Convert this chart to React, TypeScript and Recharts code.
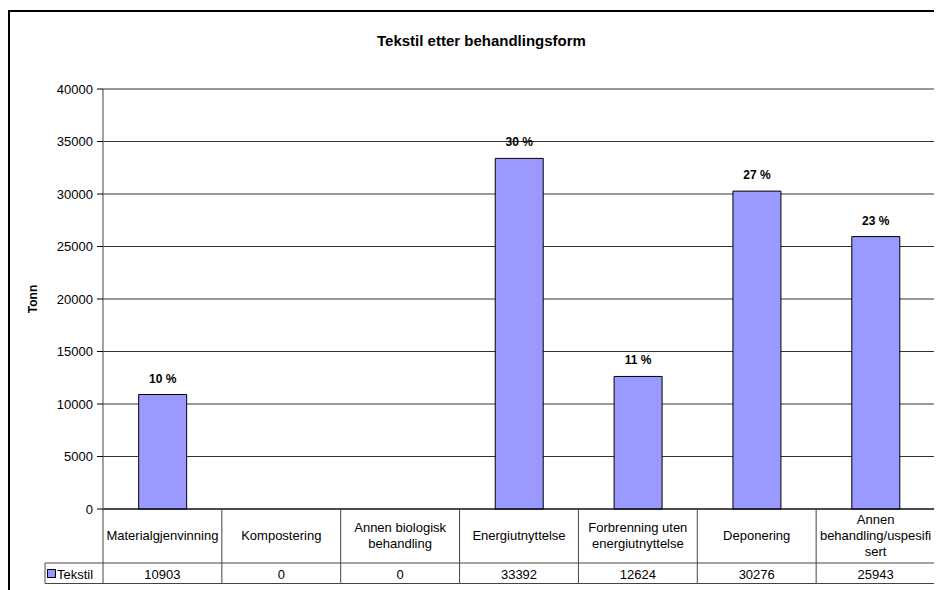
import React from "react";
import { BarChart, Bar, XAxis, YAxis, CartesianGrid, LabelList } from "recharts";

const categories = [
  "Materialgjenvinning",
  "Kompostering",
  "Annen biologisk\nbehandling",
  "Energiutnyttelse",
  "Forbrenning uten\nenergiutnyttelse",
  "Deponering",
  "Annen\nbehandling/uspesifi\nsert",
];
const tekstilValues = [10903, 0, 0, 33392, 12624, 30276, 25943];
const percentLabels = ["10 %", "", "", "30 %", "11 %", "27 %", "23 %"];
const yTicks = [0, 5000, 10000, 15000, 20000, 25000, 30000, 35000, 40000];
const seriesName = "Tekstil";
const title = "Tekstil etter behandlingsform";
const yTitle = "Tonn";

const data = categories.map((c, i) => ({
  category: c,
  value: tekstilValues[i],
  pct: percentLabels[i],
}));

const FONT = "'Liberation Sans', Arial, sans-serif";
const LINE = "#444";
const BAR_FILL = "#9999FF";

const CAT_ROW = 54;
const VAL_ROW = 21;
const LEGEND_W = 58;

const TableTick = (props: any) => {
  const { x, y, payload, index } = props;
  const n = categories.length;
  const bw = payload && payload.offset ? payload.offset * 2 : 832 / n;
  const left = x - bw / 2;
  const label: string = categories[index] ?? String(payload.value);
  const lines = label.split("\n");
  const cy = y + CAT_ROW / 2 - 1;
  const bottom = y + CAT_ROW + VAL_ROW - 0.5;
  return (
    <g>
      <line x1={left} y1={y} x2={left} y2={bottom} stroke={LINE} strokeWidth={1} />
      {index === n - 1 && (
        <line x1={left + bw} y1={y} x2={left + bw} y2={bottom} stroke={LINE} strokeWidth={1} />
      )}
      <line x1={left} y1={y + CAT_ROW} x2={left + bw} y2={y + CAT_ROW} stroke={LINE} strokeWidth={1} />
      <line x1={left} y1={bottom} x2={left + bw} y2={bottom} stroke={LINE} strokeWidth={1} />
      {lines.map((ln, i) => (
        <text
          key={i}
          x={x}
          y={cy + (i - (lines.length - 1) / 2) * 16 + 4.5}
          textAnchor="middle"
          fontSize={13}
          fontFamily={FONT}
          fill="#000"
        >
          {ln}
        </text>
      ))}
      <text
        x={x}
        y={y + CAT_ROW + VAL_ROW / 2 + 5}
        textAnchor="middle"
        fontSize={13}
        fontFamily={FONT}
        fill="#000"
      >
        {tekstilValues[index]}
      </text>
      {index === 0 && (
        <g>
          <line x1={left - LEGEND_W} y1={y + CAT_ROW} x2={left} y2={y + CAT_ROW} stroke={LINE} strokeWidth={1} />
          <line x1={left - LEGEND_W} y1={bottom} x2={left} y2={bottom} stroke={LINE} strokeWidth={1} />
          <line x1={left - LEGEND_W} y1={y + CAT_ROW} x2={left - LEGEND_W} y2={bottom} stroke={LINE} strokeWidth={1} />
          <rect
            x={left - LEGEND_W + 2.5}
            y={y + CAT_ROW + VAL_ROW / 2 - 4}
            width={8}
            height={8}
            fill={BAR_FILL}
            stroke="#000"
            strokeWidth={1}
          />
          <text
            x={left - LEGEND_W + 12}
            y={y + CAT_ROW + VAL_ROW / 2 + 5}
            fontSize={13}
            fontFamily={FONT}
            fill="#000"
          >
            {seriesName}
          </text>
        </g>
      )}
    </g>
  );
};

const YTitle = (props: any) => {
  const vb = props.viewBox || { x: 0, y: 0, width: 0, height: 0 };
  const cx = vb.x + 13;
  const cy = vb.y + vb.height / 2;
  return (
    <text
      x={cx}
      y={cy}
      transform={`rotate(-90 ${cx} ${cy})`}
      textAnchor="middle"
      dominantBaseline="central"
      fontSize={12}
      fontWeight="bold"
      fontFamily={FONT}
      fill="#000"
    >
      {yTitle}
    </text>
  );
};

export default function App() {
  return (
    <div
      style={{
        position: "relative",
        width: 926,
        height: 582,
        fontFamily: FONT,
      }}
    >
      <div
        style={{
          position: "absolute",
          left: 0,
          top: 2,
          width: 934,
          height: 580,
          borderLeft: "2px solid #000",
          borderTop: "2px solid #000",
          boxSizing: "border-box",
        }}
      />
      <div
        style={{
          position: "absolute",
          left: -8,
          top: 25,
          width: 963,
          textAlign: "center",
          fontSize: 15,
          lineHeight: "16px",
          fontWeight: "bold",
          color: "#000",
        }}
      >
        {title}
      </div>
      <div style={{ position: "absolute", left: -8, top: -8, width: 942, height: 590 }}>
        <BarChart
          width={942}
          height={590}
          data={data}
          margin={{ top: 89, right: 7, left: 20, bottom: 6 }}
          barCategoryGap="30%"
        >
          <CartesianGrid yAxisId="left" vertical={false} stroke="#333" strokeWidth={1} />
          <XAxis
            dataKey="category"
            height={CAT_ROW + VAL_ROW}
            tickLine={false}
            tickSize={0}
            tickMargin={0}
            interval={0}
            axisLine={{ stroke: "#000" }}
            tick={<TableTick />}
          />
          <YAxis
            yAxisId="left"
            width={83}
            domain={[0, 40000]}
            ticks={yTicks}
            interval={0}
            tickSize={6}
            tickMargin={4}
            tickLine={{ stroke: "#000" }}
            axisLine={{ stroke: "#444" }}
            tick={{ fontSize: 13, fill: "#000", fontFamily: FONT }}
            label={<YTitle />}
          />
          <YAxis
            yAxisId="right"
            orientation="right"
            width={0}
            domain={[0, 40000]}
            tick={false}
            tickLine={false}
            axisLine={{ stroke: "#999" }}
          />
          <Bar
            yAxisId="left"
            dataKey="value"
            fill={BAR_FILL}
            stroke="#000"
            strokeWidth={1}
            isAnimationActive={false}
          >
            <LabelList
              dataKey="pct"
              position="top"
              offset={12}
              fontSize={12}
              fontWeight="bold"
              fontFamily={FONT}
              fill="#000"
            />
          </Bar>
        </BarChart>
      </div>
    </div>
  );
}
